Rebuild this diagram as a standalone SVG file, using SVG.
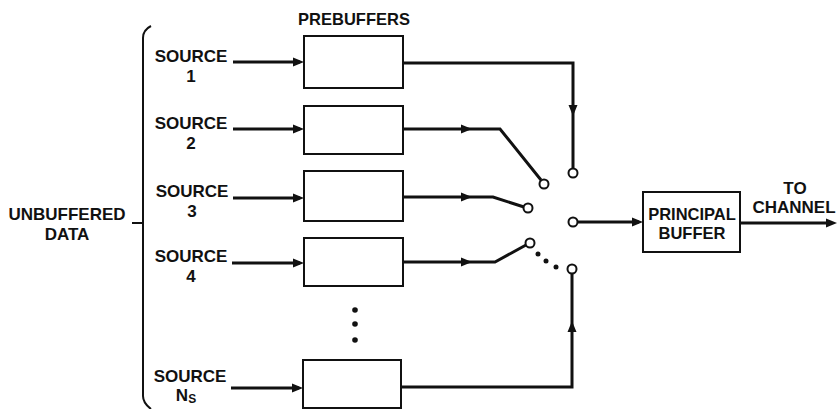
<svg xmlns="http://www.w3.org/2000/svg" width="837" height="409" viewBox="0 0 837 409">
<defs>
<style>
.t{font-family:"Liberation Sans",Arial,sans-serif;font-weight:bold;font-size:17px;fill:#111;text-anchor:middle}
.box{fill:#fff;stroke:#111;stroke-width:2}
.ln{fill:none;stroke:#111;stroke-width:3;stroke-linejoin:miter}
.term{fill:#fff;stroke:#111;stroke-width:2}
.dot{fill:#111}
</style>
<path id="ah" d="M0,0 L-11,-4.5 L-11,4.5 Z" fill="#111"/>
</defs>
<rect width="837" height="409" fill="#fff"/>

<g id="bracket">
<path class="ln" style="stroke-width:2" d="M151,26 Q143,30 143,38 L143,396 Q143,403 151,409"/>
<path class="ln" style="stroke-width:2" d="M132,223 L143,223"/>
<text class="t" x="67" y="220">UNBUFFERED</text>
<text class="t" x="67" y="240">DATA</text>
</g>

<g id="title"><text class="t" x="354" y="25" style="font-size:16.5px">PREBUFFERS</text></g>

<g id="source1"><text class="t" x="191" y="62">SOURCE</text><text class="t" x="191" y="82">1</text></g>
<g id="source2"><text class="t" x="191" y="129">SOURCE</text><text class="t" x="191" y="149">2</text></g>
<g id="source3"><text class="t" x="192" y="197">SOURCE</text><text class="t" x="192" y="217">3</text></g>
<g id="source4"><text class="t" x="191" y="262">SOURCE</text><text class="t" x="191" y="282">4</text></g>
<g id="sourceN"><text class="t" x="190" y="382">SOURCE</text><text class="t" x="186" y="401">N<tspan dy="2" style="font-size:12px">S</tspan></text></g>

<g id="prebuffer1"><rect class="box" x="304" y="36" width="99" height="52"/></g>
<g id="prebuffer2"><rect class="box" x="304" y="106" width="99" height="48"/></g>
<g id="prebuffer3"><rect class="box" x="304" y="171" width="99" height="50"/></g>
<g id="prebuffer4"><rect class="box" x="304" y="238" width="99" height="48"/></g>
<g id="prebufferN"><rect class="box" x="303" y="360" width="98" height="48"/></g>

<g id="ellipsis">
<circle class="dot" cx="355" cy="310" r="2.8"/>
<circle class="dot" cx="355" cy="324" r="2.8"/>
<circle class="dot" cx="355" cy="340" r="2.8"/>
<circle class="dot" cx="538" cy="254" r="2.5"/>
<circle class="dot" cx="546" cy="261" r="2.5"/>
<circle class="dot" cx="556" cy="267" r="2.5"/>
</g>

<g id="principal">
<rect class="box" x="643" y="192" width="97" height="60"/>
<text class="t" x="692" y="220" style="font-size:16.5px">PRINCIPAL</text>
<text class="t" x="692" y="239" style="font-size:16.5px">BUFFER</text>
</g>
<g id="channel">
<text class="t" x="795" y="194">TO</text>
<text class="t" x="794" y="213">CHANNEL</text>
</g>

<g id="connectors">
<path class="ln" d="M233,62 H300"/><use href="#ah" transform="translate(304,62)"/>
<path class="ln" d="M233,129 H300"/><use href="#ah" transform="translate(304,129)"/>
<path class="ln" d="M233,198 H300"/><use href="#ah" transform="translate(304,198)"/>
<path class="ln" d="M232,263 H300"/><use href="#ah" transform="translate(304,263)"/>
<path class="ln" d="M231,388 H299"/><use href="#ah" transform="translate(303,388)"/>

<path class="ln" d="M403,63 H573 V169"/><use href="#ah" transform="translate(573,116) rotate(90)"/>
<path class="ln" d="M403,129 H500 L541,180"/><use href="#ah" transform="translate(472,129)"/>
<path class="ln" d="M403,197 H493 L524,207"/><use href="#ah" transform="translate(472,197)"/>
<path class="ln" d="M403,262 H495 L526,245"/><use href="#ah" transform="translate(472,262)"/>
<path class="ln" d="M401,387 H572 V273"/><use href="#ah" transform="translate(572,321) rotate(-90)"/>

<path class="ln" d="M577,222 H639"/><use href="#ah" transform="translate(643,222)"/>
<path class="ln" d="M740,223 H830"/><use href="#ah" transform="translate(837,223)"/>

<circle class="term" cx="573" cy="173" r="4.5"/>
<circle class="term" cx="544" cy="184" r="4.5"/>
<circle class="term" cx="528" cy="208" r="4.5"/>
<circle class="term" cx="573" cy="222" r="4.5"/>
<circle class="term" cx="530" cy="243" r="4.5"/>
<circle class="term" cx="572" cy="269" r="4.5"/>
</g>
</svg>
